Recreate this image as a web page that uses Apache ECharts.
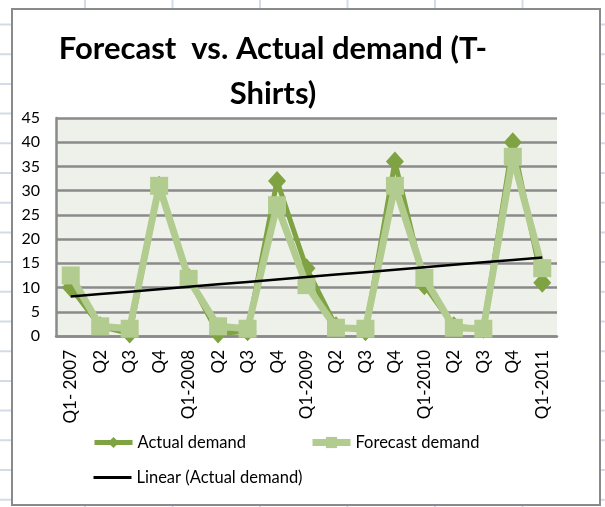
<!DOCTYPE html>
<html>
<head>
<meta charset="utf-8">
<script src="https://cdn.jsdelivr.net/npm/echarts@6/dist/echarts.min.js"></script>
<style>
  html, body { margin: 0; padding: 0; background: #ffffff; }
  #chart { width: 605px; height: 507px; }
</style>
</head>
<body>
<div id="chart"></div>
<script>
// Quarterly T-shirt demand, Q1 2007 through Q1 2011
const quarterLabels = ['Q1- 2007', 'Q2', 'Q3', 'Q4', 'Q1-2008', 'Q2', 'Q3', 'Q4',
  'Q1-2009', 'Q2', 'Q3', 'Q4', 'Q1-2010', 'Q2', 'Q3', 'Q4', 'Q1-2011'];
const actualDemand = [10, 2, 0.5, 31, 12, 0.5, 1, 32, 14, 2, 1, 36, 10.5, 2, 1.5, 40, 11];
const forecastDemand = [12.5, 2, 1.5, 31, 11.8, 2, 1.5, 27, 10.5, 1.7, 1.5, 31, 12, 1.7, 1.5, 37, 14];
const yTicks = { min: 0, max: 45, step: 5 };

// Least-squares trend over the actual demand (x = 1..n)
function linearTrend(values) {
  const n = values.length;
  let sx = 0, sy = 0, sxx = 0, sxy = 0;
  values.forEach((v, i) => {
    const x = i + 1;
    sx += x; sy += v; sxx += x * x; sxy += x * v;
  });
  const slope = (n * sxy - sx * sy) / (n * sxx - sx * sx);
  const icpt = (sy - slope * sx) / n;
  return values.map((_, i) => +(icpt + slope * (i + 1)).toFixed(3));
}
const trendValues = linearTrend(actualDemand);

const FONT = 'Lato, "Open Sans", sans-serif';
const ACTUAL_COLOR = '#7fa243';
const FORECAST_COLOR = '#b2cc8f';

// Spreadsheet cells visible around the chart object
const sheetLines = [];
[85, 172.5, 260, 347.5, 435, 522.5].forEach(x => {
  sheetLines.push({ type: 'line', z: -20, silent: true,
    shape: { x1: x, y1: 0, x2: x, y2: 507 },
    style: { stroke: '#d3dbe9', lineWidth: 2 } });
});
for (let y = 24.5; y < 507; y += 29.7) {
  sheetLines.push({ type: 'line', z: -20, silent: true,
    shape: { x1: 0, y1: y, x2: 605, y2: y },
    style: { stroke: '#d3dbe9', lineWidth: 2 } });
}
sheetLines.push({ type: 'rect', z: -10, silent: true,
  shape: { x: 12, y: 9, width: 588, height: 496 },
  style: { fill: '#ffffff', stroke: '#8a8a8a', lineWidth: 2 } });

const legendText = { fontFamily: FONT, fontSize: 16.5, color: '#000' };

const chart = echarts.init(document.getElementById('chart'), null, { renderer: 'canvas' });
chart.setOption({
  animation: false,
  backgroundColor: 'transparent',
  graphic: sheetLines,
  title: {
    text: 'Forecast  vs. Actual demand (T-\nShirts)',
    left: 268,
    top: 21,
    textAlign: 'center',
    textStyle: { fontFamily: FONT, fontWeight: 'bold', fontSize: 31, lineHeight: 45, color: '#000' }
  },
  grid: {
    left: 56, right: 48, top: 118, bottom: 171,
    show: true, backgroundColor: '#eef1e9', borderWidth: 0
  },
  legend: [
    {
      data: ['Actual demand'], left: 92, top: 434, padding: 0,
      itemWidth: 38, itemHeight: 14, textStyle: legendText,
      lineStyle: { width: 5 }
    },
    {
      data: ['Forecast demand'], left: 309, top: 434, padding: 0,
      itemWidth: 38, itemHeight: 14, textStyle: legendText,
      lineStyle: { width: 7 }
    },
    {
      data: [{ name: 'Linear (Actual demand)', itemStyle: { opacity: 0 } }],
      left: 92, top: 469, padding: 0,
      itemWidth: 38, itemHeight: 14, textStyle: legendText,
      lineStyle: { width: 3 }
    }
  ],
  xAxis: {
    type: 'category',
    data: quarterLabels,
    boundaryGap: true,
    axisLine: { show: true, lineStyle: { color: '#8a8a8a', width: 2.5 } },
    axisTick: { show: false },
    axisLabel: { rotate: 90, interval: 0, margin: 14, fontFamily: FONT, fontSize: 17, color: '#000' },
    splitLine: { show: false }
  },
  yAxis: {
    type: 'value',
    min: yTicks.min, max: yTicks.max, interval: yTicks.step,
    axisLine: { show: true, lineStyle: { color: '#8a8a8a', width: 2.5 } },
    axisTick: { show: false },
    axisLabel: { margin: 16, fontFamily: FONT, fontSize: 16, color: '#000' },
    splitLine: { show: true, lineStyle: { color: '#8a8a8a', width: 2.5 } }
  },
  series: [
    {
      name: 'Actual demand',
      type: 'line',
      data: actualDemand,
      symbol: 'diamond',
      symbolSize: [18, 20],
      showAllSymbol: true,
      itemStyle: { color: ACTUAL_COLOR },
      lineStyle: { color: ACTUAL_COLOR, width: 5 },
      z: 2
    },
    {
      name: 'Forecast demand',
      type: 'line',
      data: forecastDemand,
      symbol: 'rect',
      symbolSize: 18,
      showAllSymbol: true,
      itemStyle: { color: FORECAST_COLOR },
      lineStyle: { color: FORECAST_COLOR, width: 7 },
      z: 3
    },
    {
      name: 'Linear (Actual demand)',
      type: 'line',
      data: trendValues,
      symbol: 'none',
      itemStyle: { color: '#000' },
      lineStyle: { color: '#000', width: 2.5 },
      z: 4
    }
  ]
});
</script>
</body>
</html>
